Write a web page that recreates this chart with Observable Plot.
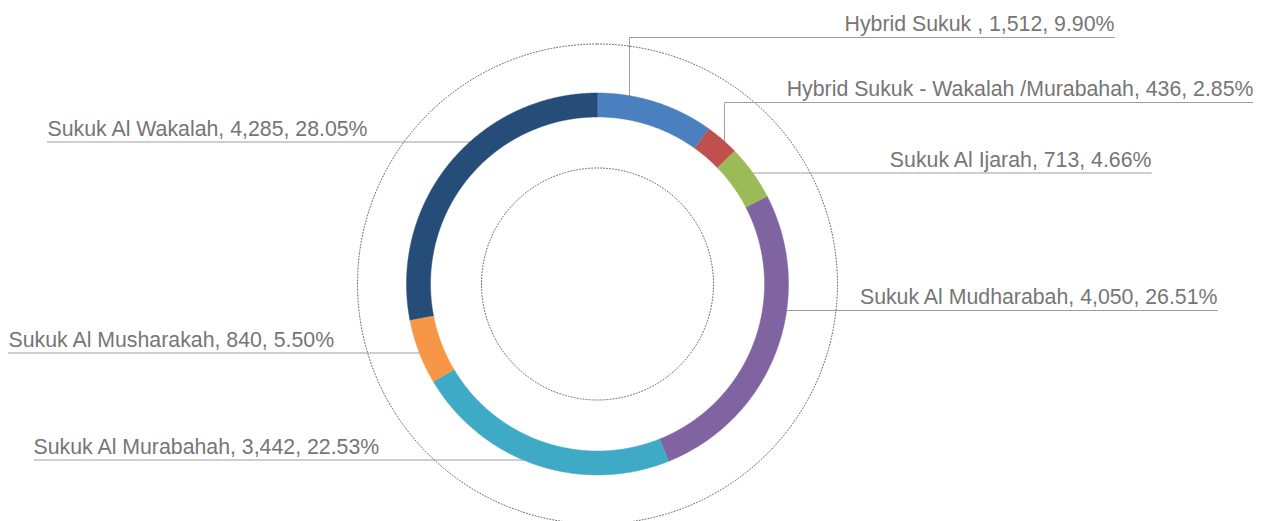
<!DOCTYPE html>
<html><head><meta charset="utf-8">
<script src="https://cdn.jsdelivr.net/npm/d3@7"></script>
<script src="https://cdn.jsdelivr.net/npm/@observablehq/plot@0.6"></script>
<style>body{margin:0;background:#fff;} svg{display:block;}</style>
</head><body><div id="chart"></div>
<script>
// ---- data ----
const categories = ["Hybrid Sukuk ", "Hybrid Sukuk - Wakalah /Murabahah", "Sukuk Al Ijarah", "Sukuk Al Mudharabah", "Sukuk Al Murabahah", "Sukuk Al Musharakah", "Sukuk Al Wakalah"];
const values = [1512, 436, 713, 4050, 3442, 840, 4285];
const percents = ["9.90", "2.85", "4.66", "26.51", "22.53", "5.50", "28.05"];

// ---- styles / layout ----
const colors = ["#4a7fc0", "#c0504d", "#9bbb59", "#8064a2", "#3faac6", "#f79646", "#264d78"];
const labelLayout = [
  {side: "right", textX: 1114, lineY: 37, elbowX: 629},
  {side: "right", textX: 1253, lineY: 102, elbowX: 724},
  {side: "right", textX: 1151, lineY: 172.5},
  {side: "right", textX: 1217, lineY: 310},
  {side: "left", textX: 33, lineY: 459.5},
  {side: "left", textX: 8, lineY: 352.5},
  {side: "left", textX: 47, lineY: 141.5}
];
const W = 1267, H = 521;
const cx = 597, cy = 283.5, R = 191, r = 167;
const guideRadii = [116, 240];

const pt = (rad, a) => ({x: cx + rad * Math.sin(a), y: cy - rad * Math.cos(a)});

// slices
const arcs = d3.pie().sort(null)(values);
const slicePts = [];
arcs.forEach((a, i) => {
  const n = Math.max(4, Math.ceil((a.endAngle - a.startAngle) / 0.004));
  for (let k = 0; k <= n; k++) {
    const t = a.startAngle + (a.endAngle - a.startAngle) * k / n;
    slicePts.push({name: categories[i], ...pt(R, t)});
  }
  for (let k = n; k >= 0; k--) {
    const t = a.startAngle + (a.endAngle - a.startAngle) * k / n;
    slicePts.push({name: categories[i], ...pt(r, t)});
  }
});

// dotted guide circles
const circlePts = [];
guideRadii.forEach((gr, j) => {
  for (let k = 0; k <= 720; k++) circlePts.push({ring: j, ...pt(gr, 2 * Math.PI * k / 720)});
});

// leader lines
const leaderPts = [];
const labels = [];
labelLayout.forEach((L, i) => {
  const id = categories[i];
  if (L.elbowX != null) {
    const yr = cy - Math.sqrt(R * R - (L.elbowX - cx) ** 2);
    leaderPts.push({id, x: L.elbowX, y: yr}, {id, x: L.elbowX, y: L.lineY}, {id, x: L.textX, y: L.lineY});
  } else {
    const dx = Math.sqrt(R * R - (L.lineY - cy) ** 2);
    const xr = L.side === "right" ? cx + dx : cx - dx;
    leaderPts.push({id, x: xr, y: L.lineY}, {id, x: L.textX, y: L.lineY});
  }
  labels.push({
    x: L.textX, y: L.lineY - 6.5,
    anchor: L.side === "right" ? "end" : "start",
    text: `${categories[i]}, ${d3.format(",")(values[i])}, ${percents[i]}%`
  });
});

const textStyle = {fontSize: 21.3, fill: "#767676", fontFamily: "'Liberation Sans', Arial, sans-serif", lineAnchor: "bottom"};

const chart = Plot.plot({
  width: W, height: H, margin: 0,
  x: {domain: [0, W], range: [0, W], axis: null},
  y: {domain: [0, H], range: [0, H], axis: null},
  color: {domain: categories, range: colors},
  marks: [
    Plot.line(circlePts, {x: "x", y: "y", z: "ring", stroke: "#555", strokeWidth: 0.9, strokeDasharray: "1,2"}),
    Plot.line(leaderPts, {x: "x", y: "y", z: "id", stroke: "#8f8f8f", strokeWidth: 1, strokeDasharray: "1,1"}),
    Plot.line(slicePts, {x: "x", y: "y", z: "name", fill: "name", stroke: "name", strokeWidth: 0.5}),
    Plot.text(labels.filter(d => d.anchor === "end"), {x: "x", y: "y", text: "text", textAnchor: "end", ...textStyle}),
    Plot.text(labels.filter(d => d.anchor === "start"), {x: "x", y: "y", text: "text", textAnchor: "start", ...textStyle})
  ]
});
document.getElementById("chart").appendChild(chart);
</script>
</body></html>
